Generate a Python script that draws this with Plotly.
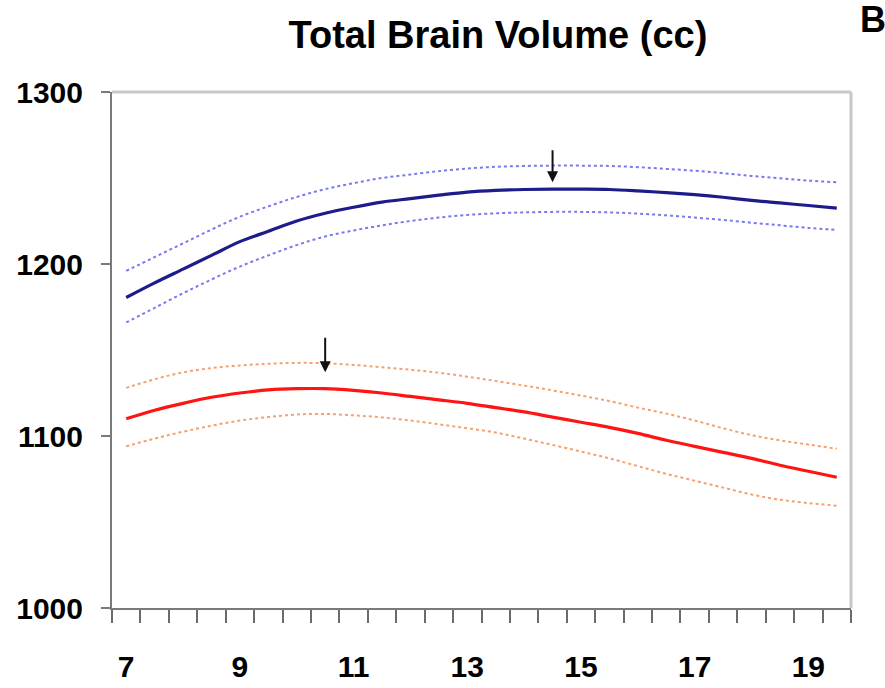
import plotly.graph_objects as go

# Age in years (x) and fitted total brain volume in cc (y)
ages = [7.0, 7.5, 8.0, 8.5, 9.0, 9.5, 10.0, 10.5, 11.0, 11.5, 12.0, 12.5, 13.0,
        13.5, 14.0, 14.5, 15.0, 15.5, 16.0, 16.5, 17.0, 17.5, 18.0, 18.5, 19.0, 19.5]

male_fit = [1180.5, 1189, 1197, 1205, 1213, 1219, 1225, 1229.5, 1233, 1236, 1238, 1240,
            1241.8, 1242.8, 1243.3, 1243.5, 1243.5, 1243.3, 1242.5, 1241.5, 1240.3,
            1238.8, 1237, 1235.5, 1234, 1232.5]
male_upper = [1196, 1204, 1212, 1220, 1227.5, 1233.5, 1239, 1243.5, 1247, 1250, 1252,
              1254, 1255.5, 1256.5, 1257, 1257.2, 1257.2, 1257, 1256.3, 1255.3, 1254.2,
              1252.8, 1251.2, 1249.8, 1248.5, 1247.5]
male_lower = [1166, 1174.5, 1183, 1191, 1198.5, 1205, 1211, 1216, 1219.5, 1222.5, 1225,
              1227, 1228.5, 1229.5, 1230, 1230.3, 1230.3, 1230, 1229.3, 1228.3, 1227,
              1225.6, 1224, 1222.5, 1221, 1219.8]

female_fit = [1110, 1115, 1119, 1122.5, 1125, 1126.8, 1127.5, 1127.5, 1126.5, 1125, 1123,
              1121, 1119, 1116.5, 1114, 1111, 1108, 1105, 1101.5, 1097.5, 1094, 1090.5,
              1087, 1083, 1079.5, 1076]
female_upper = [1128, 1133, 1137, 1139.5, 1141, 1142, 1142.5, 1142.3, 1141.3, 1140,
                1138.5, 1136.8, 1134.5, 1132, 1129.3, 1126.5, 1123.5, 1120.3, 1116.5,
                1113, 1109, 1104.5, 1100.5, 1097.5, 1095, 1092.6]
female_lower = [1094, 1098.5, 1102.5, 1106, 1109, 1111, 1112.5, 1112.8, 1112, 1110.8,
                1109, 1106.8, 1104.5, 1102, 1098.5, 1094.8, 1091, 1087, 1082.5, 1078,
                1074, 1070, 1066, 1063, 1061, 1059.5]

# Peak ages marked with arrows: (age, arrow tip, arrow tail)
male_peak = (14.5, 1247.5, 1267)
female_peak = (10.5, 1137, 1158)

x_ticks = [7, 9, 11, 13, 15, 17, 19]
y_ticks = [1000, 1100, 1200, 1300]

FONT = "Liberation Sans, Arial, sans-serif"

fig = go.Figure()

def add_band(y, color, dash, width):
    fig.add_trace(go.Scatter(
        x=ages, y=y, mode="lines",
        line=dict(color=color, width=width, dash=dash, shape="spline"),
        showlegend=False, hoverinfo="skip"))

add_band(male_upper, "#7878f2", "dot", 2)
add_band(male_lower, "#7878f2", "dot", 2)
add_band(male_fit, "#1c1c8a", "solid", 3.2)
add_band(female_upper, "#f5a070", "dot", 2)
add_band(female_lower, "#f5a070", "dot", 2)
add_band(female_fit, "#ff1414", "solid", 3.2)

for age, tip, tail in (male_peak, female_peak):
    fig.add_annotation(
        x=age, y=tip, ax=age, ay=tail, xref="x", yref="y", axref="x", ayref="y",
        showarrow=True, arrowhead=2, arrowsize=1.1, arrowwidth=2,
        arrowcolor="#111111", text="")

# Panel letter at the top-right corner
fig.add_annotation(
    x=1.0095, y=1.14, xref="paper", yref="paper", text="B", showarrow=False,
    xanchor="left", yanchor="middle",
    font=dict(family=FONT, size=36, color="black", weight="bold"))

# Light frame on the top and right sides of the plot area
fig.add_shape(type="line", xref="paper", yref="paper", x0=0, x1=1, y0=1, y1=1,
              line=dict(color="#c8c8c8", width=3))
fig.add_shape(type="line", xref="paper", yref="paper", x0=1, x1=1, y0=0, y1=1,
              line=dict(color="#c8c8c8", width=3))

fig.update_layout(
    width=885, height=688,
    margin=dict(l=112, r=34, t=92, b=80, autoexpand=False),
    paper_bgcolor="white", plot_bgcolor="white",
    title=dict(text="Total Brain Volume (cc)", xref="container", yref="container",
               x=0.5627, y=0.95, xanchor="center", yanchor="middle",
               font=dict(family=FONT, size=38, color="black", weight="bold")),
    xaxis=dict(
        range=[6.75, 19.75], showgrid=False, zeroline=False, automargin=False,
        tickmode="array", tickvals=x_ticks, ticktext=[str(v) for v in x_ticks],
        ticks="", ticklabelstandoff=31,
        showline=True, linecolor="#7a7a7a", linewidth=2,
        tickfont=dict(family=FONT, size=30, color="black", weight="bold"),
        minor=dict(ticks="outside", tick0=6.75, dtick=0.5, ticklen=13,
                   tickwidth=2, tickcolor="#6a6a6a", showgrid=False)),
    yaxis=dict(
        range=[1000, 1300], showgrid=False, zeroline=False, automargin=False,
        tickmode="array", tickvals=y_ticks, ticktext=[str(v) for v in y_ticks],
        ticks="outside", ticklen=9, tickwidth=2, tickcolor="#7a7a7a",
        ticklabelstandoff=12,
        showline=True, linecolor="#7a7a7a", linewidth=2,
        tickfont=dict(family=FONT, size=30, color="black", weight="bold")),
)

fig.write_html("out.html")
